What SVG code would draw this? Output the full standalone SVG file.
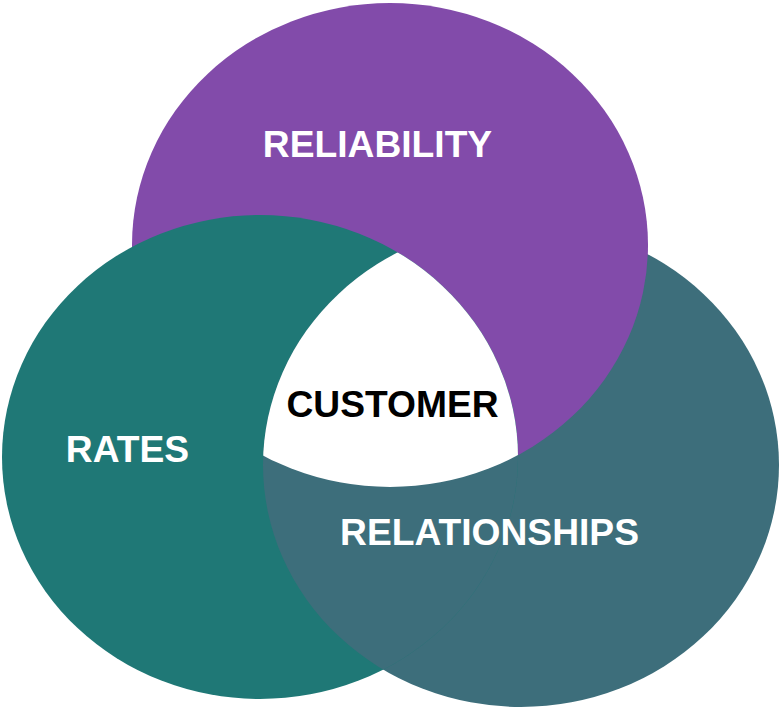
<svg xmlns="http://www.w3.org/2000/svg" width="780" height="707" viewBox="0 0 780 707">
  <style>
    .lbl { font-family: "Liberation Sans", Arial, sans-serif; font-weight: bold; font-size: 37.2px; text-anchor: middle; }
    .w { fill: #ffffff; }
    .k { fill: #000000; }
    .purple { fill: #824BAA; }
    .teal { fill: #1F7876; }
    .slate { fill: #3D6E7B; }
  </style>
  <defs>
    <ellipse id="shapeA" cx="390" cy="245" rx="258" ry="242"/>
    <ellipse id="shapeB" cx="260" cy="457" rx="258" ry="242"/>
    <ellipse id="shapeC" cx="521" cy="465" rx="258" ry="242"/>
    <clipPath id="clipA"><use href="#shapeA"/></clipPath>
    <clipPath id="clipB"><use href="#shapeB"/></clipPath>
  </defs>

  <g id="node-relationships">
    <use href="#shapeC" class="slate"/>
  </g>
  <g id="node-reliability">
    <use href="#shapeA" class="purple"/>
    <text class="lbl w" x="377.5" y="157">RELIABILITY</text>
  </g>
  <g id="node-rates">
    <use href="#shapeB" class="teal"/>
    <text class="lbl w" x="127.5" y="462">RATES</text>
  </g>
  <g id="node-relationships-overlap">
    <g clip-path="url(#clipB)">
      <use href="#shapeC" class="slate"/>
    </g>
    <text class="lbl w" x="489.5" y="545">RELATIONSHIPS</text>
  </g>
  <g id="node-customer">
    <g clip-path="url(#clipB)">
      <g clip-path="url(#clipA)">
        <use href="#shapeC" class="w"/>
      </g>
    </g>
    <text class="lbl k" x="392.5" y="417">CUSTOMER</text>
  </g>
  <g id="connectors"/>
</svg>
